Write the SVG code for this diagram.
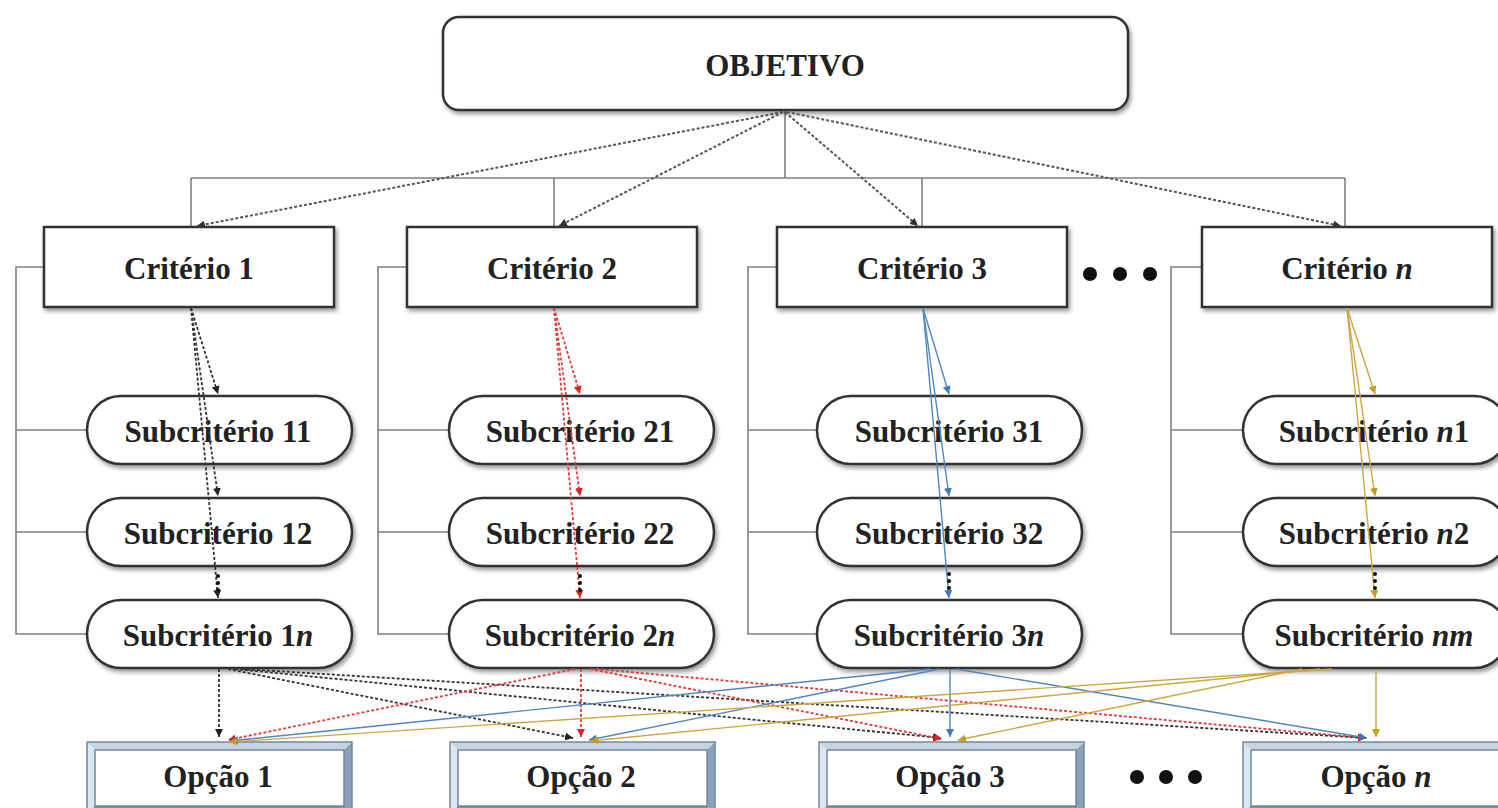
<svg xmlns="http://www.w3.org/2000/svg" width="1498" height="808" viewBox="0 0 1498 808">
  <defs>
    <filter id="shadow" x="-5%" y="-10%" width="112%" height="130%">
      <feDropShadow dx="2" dy="3" stdDeviation="2" flood-color="#000" flood-opacity="0.4"/>
    </filter>
    <marker id="ah-gray" viewBox="0 0 10 10" refX="10" refY="5" markerWidth="8" markerHeight="8" markerUnits="userSpaceOnUse" orient="auto">
      <path d="M0,0 L10,5 L0,10 z" fill="#333"/>
    </marker>
    <marker id="ah-black" viewBox="0 0 10 10" refX="10" refY="5" markerWidth="8" markerHeight="8" markerUnits="userSpaceOnUse" orient="auto">
      <path d="M0,0 L10,5 L0,10 z" fill="#222"/>
    </marker>
    <marker id="ah-red" viewBox="0 0 10 10" refX="10" refY="5" markerWidth="8" markerHeight="8" markerUnits="userSpaceOnUse" orient="auto">
      <path d="M0,0 L10,5 L0,10 z" fill="#e02020"/>
    </marker>
    <marker id="ah-blue" viewBox="0 0 10 10" refX="10" refY="5" markerWidth="8" markerHeight="8" markerUnits="userSpaceOnUse" orient="auto">
      <path d="M0,0 L10,5 L0,10 z" fill="#3f7ab5"/>
    </marker>
    <marker id="ah-gold" viewBox="0 0 10 10" refX="10" refY="5" markerWidth="8" markerHeight="8" markerUnits="userSpaceOnUse" orient="auto">
      <path d="M0,0 L10,5 L0,10 z" fill="#c99a22"/>
    </marker>
  </defs>
  <style>
    .box { fill: #fff; stroke: #333; stroke-width: 2.5; filter: url(#shadow); }
    .lbl { font-family: "Liberation Serif", "Times New Roman", serif; font-weight: bold; font-size: 31px; fill: #222; text-anchor: middle; }
    .it { font-style: italic; }
    .tree { fill: none; stroke: #808080; stroke-width: 1.6; }
    .g-dot { fill: none; stroke: #555; stroke-width: 2; stroke-dasharray: 3 2; marker-end: url(#ah-gray); }
    .k-dot { fill: none; stroke: #333; stroke-width: 1.8; stroke-dasharray: 3 2; marker-end: url(#ah-black); }
    .r-dot { fill: none; stroke: #e03a3a; stroke-width: 1.8; stroke-dasharray: 3 2; marker-end: url(#ah-red); }
    .b-ln { fill: none; stroke: #4f87bf; stroke-width: 1.4; marker-end: url(#ah-blue); }
    .y-ln { fill: none; stroke: #cca640; stroke-width: 1.4; marker-end: url(#ah-gold); }
    .opt-face { fill: #fff; }
    .bev-top { fill: #c6d4e2; }
    .bev-left { fill: #dde6ef; }
    .bev-right { fill: #8aa1b8; }
    .bev-bot { fill: #7890a8; }
    .opt-edge { fill: none; stroke: #6f88a2; stroke-width: 1.5; }
    .ell { fill: #111; }
  </style>

  <rect width="1498" height="808" fill="#fff"/>

  <!-- hierarchy tree and side brackets -->
  <g id="tree-lines">
    <path class="tree" d="M785,110 V178 M191,178 H1345 M191,178 V227 M554,178 V227 M922,178 V227 M1345,178 V227"/>
    <path class="tree" d="M44,267 H16 V634 H87 M16,430 H87 M16,532 H87"/>
    <path class="tree" d="M407,267 H378 V634 H449 M378,430 H449 M378,532 H449"/>
    <path class="tree" d="M777,267 H748 V634 H817 M748,430 H817 M748,532 H817"/>
    <path class="tree" d="M1202,267 H1171 V634 H1243 M1171,430 H1243 M1171,532 H1243"/>
  </g>

  <!-- goal -->
  <g id="objetivo">
    <rect class="box" x="443" y="17" width="685" height="93" rx="16"/>
    <text class="lbl" x="785" y="76">OBJETIVO</text>
  </g>

  <!-- criteria -->
  <g id="criterio-1">
    <rect class="box" x="44" y="227" width="290" height="80"/>
    <text class="lbl" x="189" y="279">Critério 1</text>
  </g>
  <g id="criterio-2">
    <rect class="box" x="407" y="227" width="290" height="80"/>
    <text class="lbl" x="552" y="279">Critério 2</text>
  </g>
  <g id="criterio-3">
    <rect class="box" x="777" y="227" width="290" height="80"/>
    <text class="lbl" x="922" y="279">Critério 3</text>
  </g>
  <g id="criterio-n">
    <rect class="box" x="1202" y="227" width="290" height="80"/>
    <text class="lbl" x="1347" y="279">Critério <tspan class="it">n</tspan></text>
  </g>
  <g id="dots-criterios">
    <circle class="ell" cx="1090" cy="274" r="7"/>
    <circle class="ell" cx="1120" cy="274" r="7"/>
    <circle class="ell" cx="1150" cy="274" r="7"/>
  </g>

  <!-- sub-criteria, column 1 -->
  <g id="sub-11">
    <rect class="box" x="87" y="396" width="265" height="68" rx="34"/>
    <text class="lbl" x="218" y="442">Subcritério 11</text>
  </g>
  <g id="sub-12">
    <rect class="box" x="87" y="498" width="265" height="68" rx="34"/>
    <text class="lbl" x="218" y="544">Subcritério 12</text>
  </g>
  <g id="sub-1n">
    <rect class="box" x="87" y="600" width="265" height="68" rx="34"/>
    <text class="lbl" x="218" y="646">Subcritério 1<tspan class="it">n</tspan></text>
  </g>

  <!-- sub-criteria, column 2 -->
  <g id="sub-21">
    <rect class="box" x="449" y="396" width="265" height="68" rx="34"/>
    <text class="lbl" x="580" y="442">Subcritério 21</text>
  </g>
  <g id="sub-22">
    <rect class="box" x="449" y="498" width="265" height="68" rx="34"/>
    <text class="lbl" x="580" y="544">Subcritério 22</text>
  </g>
  <g id="sub-2n">
    <rect class="box" x="449" y="600" width="265" height="68" rx="34"/>
    <text class="lbl" x="580" y="646">Subcritério 2<tspan class="it">n</tspan></text>
  </g>

  <!-- sub-criteria, column 3 -->
  <g id="sub-31">
    <rect class="box" x="817" y="396" width="265" height="68" rx="34"/>
    <text class="lbl" x="949" y="442">Subcritério 31</text>
  </g>
  <g id="sub-32">
    <rect class="box" x="817" y="498" width="265" height="68" rx="34"/>
    <text class="lbl" x="949" y="544">Subcritério 32</text>
  </g>
  <g id="sub-3n">
    <rect class="box" x="817" y="600" width="265" height="68" rx="34"/>
    <text class="lbl" x="949" y="646">Subcritério 3<tspan class="it">n</tspan></text>
  </g>

  <!-- sub-criteria, column n -->
  <g id="sub-n1">
    <rect class="box" x="1243" y="396" width="265" height="68" rx="34"/>
    <text class="lbl" x="1374" y="442">Subcritério <tspan class="it">n</tspan>1</text>
  </g>
  <g id="sub-n2">
    <rect class="box" x="1243" y="498" width="265" height="68" rx="34"/>
    <text class="lbl" x="1374" y="544">Subcritério <tspan class="it">n</tspan>2</text>
  </g>
  <g id="sub-nm">
    <rect class="box" x="1243" y="600" width="265" height="68" rx="34"/>
    <text class="lbl" x="1374" y="646">Subcritério <tspan class="it">nm</tspan></text>
  </g>

  <!-- options (bevelled boxes) -->
  <g id="opcao-1">
    <rect class="opt-face" x="87" y="742" width="265" height="72"/>
    <polygon class="bev-top" points="87,742 352,742 344,750 95,750"/>
    <polygon class="bev-left" points="87,742 95,750 95,806 87,814"/>
    <polygon class="bev-right" points="352,742 352,814 344,806 344,750"/>
    <polygon class="bev-bot" points="87,814 95,806 344,806 352,814"/>
    <rect class="opt-edge" x="87" y="742" width="265" height="72"/>
    <rect class="opt-edge" x="95" y="750" width="249" height="56" stroke-width="1"/>
    <text class="lbl" x="218" y="787">Opção 1</text>
  </g>
  <g id="opcao-2">
    <rect class="opt-face" x="450" y="742" width="265" height="72"/>
    <polygon class="bev-top" points="450,742 715,742 707,750 458,750"/>
    <polygon class="bev-left" points="450,742 458,750 458,806 450,814"/>
    <polygon class="bev-right" points="715,742 715,814 707,806 707,750"/>
    <polygon class="bev-bot" points="450,814 458,806 707,806 715,814"/>
    <rect class="opt-edge" x="450" y="742" width="265" height="72"/>
    <rect class="opt-edge" x="458" y="750" width="249" height="56" stroke-width="1"/>
    <text class="lbl" x="581" y="787">Opção 2</text>
  </g>
  <g id="opcao-3">
    <rect class="opt-face" x="819" y="742" width="265" height="72"/>
    <polygon class="bev-top" points="819,742 1084,742 1076,750 827,750"/>
    <polygon class="bev-left" points="819,742 827,750 827,806 819,814"/>
    <polygon class="bev-right" points="1084,742 1084,814 1076,806 1076,750"/>
    <polygon class="bev-bot" points="819,814 827,806 1076,806 1084,814"/>
    <rect class="opt-edge" x="819" y="742" width="265" height="72"/>
    <rect class="opt-edge" x="827" y="750" width="249" height="56" stroke-width="1"/>
    <text class="lbl" x="950" y="787">Opção 3</text>
  </g>
  <g id="opcao-n">
    <rect class="opt-face" x="1243" y="742" width="265" height="72"/>
    <polygon class="bev-top" points="1243,742 1508,742 1500,750 1251,750"/>
    <polygon class="bev-left" points="1243,742 1251,750 1251,806 1243,814"/>
    <polygon class="bev-right" points="1508,742 1508,814 1500,806 1500,750"/>
    <polygon class="bev-bot" points="1243,814 1251,806 1500,806 1508,814"/>
    <rect class="opt-edge" x="1243" y="742" width="265" height="72"/>
    <rect class="opt-edge" x="1251" y="750" width="249" height="56" stroke-width="1"/>
    <text class="lbl" x="1376" y="787">Opção <tspan class="it">n</tspan></text>
  </g>
  <g id="dots-opcoes">
    <circle class="ell" cx="1137" cy="777" r="7"/>
    <circle class="ell" cx="1166" cy="777" r="7"/>
    <circle class="ell" cx="1195" cy="777" r="7"/>
  </g>

  <!-- weighted links -->
  <g id="connectors">
    <!-- goal to criteria -->
    <path class="g-dot" d="M783,112 L197,226"/>
    <path class="g-dot" d="M783,112 L559,226"/>
    <path class="g-dot" d="M785,112 L918,226"/>
    <path class="g-dot" d="M787,112 L1341,226"/>

    <!-- criterion 1 to its sub-criteria -->
    <path class="k-dot" d="M191,308 L218,394"/>
    <path class="k-dot" d="M191,308 L218,496"/>
    <path class="k-dot" d="M191,308 L218,598"/>
    <!-- criterion 2 -->
    <path class="r-dot" d="M554,308 L580,394"/>
    <path class="r-dot" d="M554,308 L580,496"/>
    <path class="r-dot" d="M554,308 L580,598"/>
    <!-- criterion 3 -->
    <path class="b-ln" d="M923,308 L949,394"/>
    <path class="b-ln" d="M923,308 L949,496"/>
    <path class="b-ln" d="M923,308 L949,598"/>
    <!-- criterion n -->
    <path class="y-ln" d="M1347,308 L1375,394"/>
    <path class="y-ln" d="M1347,308 L1375,496"/>
    <path class="y-ln" d="M1347,308 L1375,598"/>

    <!-- vertical ellipses between second and last sub-criteria -->
    <circle class="ell" cx="218" cy="576" r="2"/><circle class="ell" cx="218" cy="583" r="2"/><circle class="ell" cx="218" cy="590" r="2"/>
    <circle class="ell" cx="580" cy="576" r="2"/><circle class="ell" cx="580" cy="583" r="2"/><circle class="ell" cx="580" cy="590" r="2"/>
    <circle class="ell" cx="949" cy="574" r="2"/><circle class="ell" cx="949" cy="581" r="2"/><circle class="ell" cx="949" cy="588" r="2"/>
    <circle class="ell" cx="1375" cy="574" r="2"/><circle class="ell" cx="1375" cy="581" r="2"/><circle class="ell" cx="1375" cy="588" r="2"/>

    <!-- sub-criterion 1n to options -->
    <path class="k-dot" d="M219,669 L219,737"/>
    <path class="k-dot" d="M228,669 L573,738"/>
    <path class="k-dot" d="M235,669 L941,738"/>
    <path class="k-dot" d="M242,669 L1366,738"/>
    <!-- sub-criterion 2n to options -->
    <path class="r-dot" d="M575,669 L228,740"/>
    <path class="r-dot" d="M581,669 L581,737"/>
    <path class="r-dot" d="M590,669 L942,739"/>
    <path class="r-dot" d="M596,669 L1366,738"/>
    <!-- sub-criterion 3n to options -->
    <path class="b-ln" d="M930,669 L230,741"/>
    <path class="b-ln" d="M940,669 L589,740"/>
    <path class="b-ln" d="M950,669 L950,737"/>
    <path class="b-ln" d="M956,669 L1367,738"/>
    <!-- sub-criterion nm to options -->
    <path class="y-ln" d="M1332,669 L229,742"/>
    <path class="y-ln" d="M1320,669 L590,741"/>
    <path class="y-ln" d="M1302,669 L958,740"/>
    <path class="y-ln" d="M1376,669 L1376,737"/>
  </g>
</svg>
